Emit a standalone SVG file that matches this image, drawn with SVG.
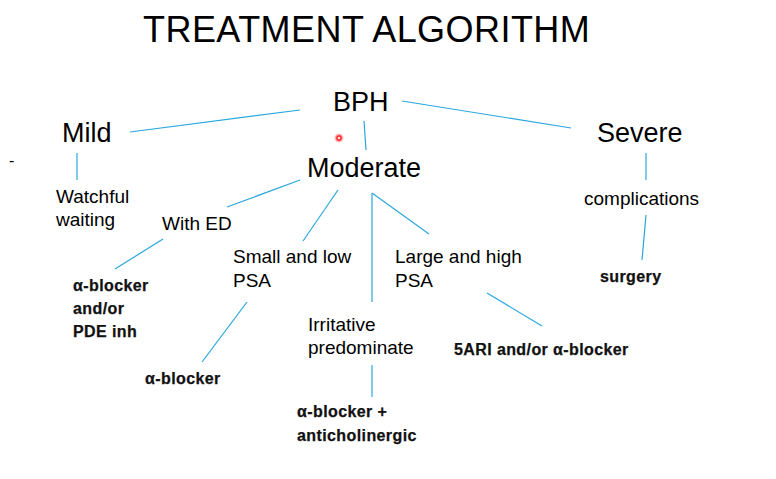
<svg xmlns="http://www.w3.org/2000/svg" width="776" height="479" viewBox="0 0 776 479">
<defs>
<style>
.t{font-family:"Liberation Sans",Arial,sans-serif;fill:#000}
.big{font-size:27px}
.mid{font-size:19px}
.b{font-family:"Liberation Sans",Arial,sans-serif;font-weight:bold;font-size:16px;letter-spacing:0.4px;fill:#111;stroke:#111;stroke-width:0.25}
.c line{stroke:#2aa7dc;stroke-width:1.2}
</style>
<radialGradient id="glow">
<stop offset="0" stop-color="#ff2020"/>
<stop offset="0.45" stop-color="#ff3030"/>
<stop offset="1" stop-color="#ff8080" stop-opacity="0"/>
</radialGradient>
</defs>
<rect width="776" height="479" fill="#fff"/>
<text class="t" x="143" y="42" font-size="36" letter-spacing="0.45">TREATMENT ALGORITHM</text>
<g class="c" id="connectors">
<line x1="300" y1="110" x2="130" y2="132"/>
<line x1="364" y1="121" x2="366" y2="150"/>
<line x1="402" y1="101" x2="571" y2="128"/>
<line x1="77" y1="153" x2="77" y2="180"/>
<line x1="300" y1="180" x2="227" y2="207"/>
<line x1="338" y1="190" x2="303" y2="241"/>
<line x1="372" y1="193" x2="372" y2="302"/>
<line x1="372" y1="193" x2="429" y2="234"/>
<line x1="163" y1="239" x2="115" y2="269"/>
<line x1="247" y1="302" x2="202" y2="362"/>
<line x1="372" y1="365" x2="372" y2="397"/>
<line x1="487" y1="293" x2="542" y2="326"/>
<line x1="646" y1="153" x2="646" y2="180"/>
<line x1="646" y1="215" x2="642" y2="260"/>
</g>
<g id="bph"><text class="t big" x="333" y="111">BPH</text></g>
<g id="mild"><text class="t big" x="62" y="142">Mild</text></g>
<g id="moderate"><text class="t big" x="307" y="177">Moderate</text></g>
<g id="severe"><text class="t big" x="597" y="142">Severe</text></g>
<g id="watchful"><text class="t mid" x="56" y="203">Watchful</text><text class="t mid" x="56" y="226">waiting</text></g>
<g id="withed"><text class="t mid" x="162" y="230">With ED</text></g>
<g id="small"><text class="t mid" x="233" y="263">Small and low</text><text class="t mid" x="233" y="287">PSA</text></g>
<g id="large"><text class="t mid" x="395" y="263">Large and high</text><text class="t mid" x="395" y="287">PSA</text></g>
<g id="irritative"><text class="t mid" x="308" y="331">Irritative</text><text class="t mid" x="308" y="354">predominate</text></g>
<g id="complications"><text class="t mid" x="584" y="205">complications</text></g>
<g id="ab-pde"><text class="b" x="73" y="291">α-blocker</text><text class="b" x="73" y="314">and/or</text><text class="b" x="73" y="337">PDE inh</text></g>
<g id="ab"><text class="b" x="145" y="384">α-blocker</text></g>
<g id="ab-anti"><text class="b" x="297" y="417">α-blocker +</text><text class="b" x="297" y="441">anticholinergic</text></g>
<g id="fiveari"><text class="b" x="454" y="355" letter-spacing="0.8">5ARI and/or α-blocker</text></g>
<g id="surgery"><text class="b" x="600" y="282">surgery</text></g>
<text class="t" x="9" y="166" font-size="16">-</text>
<circle cx="339" cy="138" r="5" fill="url(#glow)"/>
<circle cx="339" cy="138" r="1.3" fill="#ffdede"/>
</svg>
